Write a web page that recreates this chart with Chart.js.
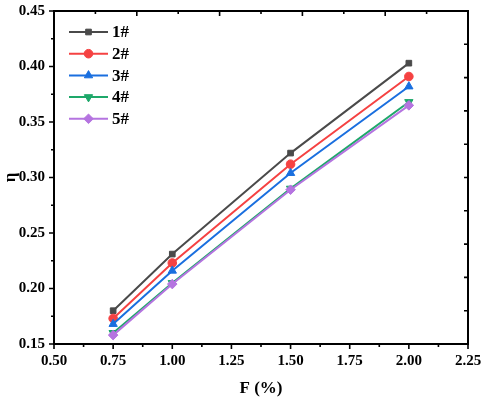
<!DOCTYPE html>
<html>
<head>
<meta charset="utf-8">
<script src="https://cdn.jsdelivr.net/npm/chart.js@4/dist/chart.umd.min.js"></script>
<style>
html,body{margin:0;padding:0;background:#fff;}
#wrap{width:484px;height:399px;position:relative;}
</style>
</head>
<body>
<div id="wrap"><canvas id="c" width="484" height="399"></canvas></div>
<script>
const xValues = [0.75, 1.00, 1.50, 2.00];
const seriesNames = ['1#', '2#', '3#', '4#', '5#'];
const s1 = [0.180, 0.231, 0.322, 0.403];
const s2 = [0.173, 0.223, 0.312, 0.391];
const s3 = [0.168, 0.216, 0.304, 0.382];
const s4 = [0.160, 0.205, 0.290, 0.368];
const s5 = [0.158, 0.204, 0.289, 0.365];
const xTickLabels = ['0.50','0.75','1.00','1.25','1.50','1.75','2.00','2.25'];
const yTickLabels = ['0.15','0.20','0.25','0.30','0.35','0.40','0.45'];

const colors = ['#4a4a4a', '#f54242', '#1a6fdf', '#1ea86a', '#b574e0'];
const styles = ['rect', 'circle', 'triangle', 'triangle', 'rectRot'];
const rotations = [0, 0, 0, 180, 0];
const radii = [4, 4.3, 4.8, 4.8, 4.8];
const allSeries = [s1, s2, s3, s4, s5];

const datasets = allSeries.map((s, i) => ({
  label: seriesNames[i],
  data: s.map((v, j) => ({x: xValues[j], y: v})),
  borderColor: colors[i],
  backgroundColor: colors[i],
  borderWidth: 2,
  pointStyle: styles[i],
  pointRotation: rotations[i],
  pointRadius: radii[i],
  pointBorderWidth: 1,
  showLine: true,
  fill: false,
  tension: 0,
  order: 5 - i
}));

const serif = "'Liberation Serif', 'Times New Roman', serif";

const framePlugin = {
  id: 'frameTicks',
  afterDraw(chart) {
    const {ctx, chartArea: a, scales} = chart;
    const xs = scales.x, ys = scales.y;
    ctx.save();
    ctx.strokeStyle = '#000';
    ctx.lineWidth = 1.6;
    ctx.lineCap = 'butt';
    ctx.beginPath();
    for (let k = 0; k <= 14; k++) {
      const px = xs.getPixelForValue(0.5 + k * 0.125);
      const len = (k % 2 === 0) ? 5 : 3;
      ctx.moveTo(px, a.bottom); ctx.lineTo(px, a.bottom + len);
    }
    for (let k = 0; k <= 12; k++) {
      const py = ys.getPixelForValue(0.15 + k * 0.025);
      const len = (k % 2 === 0) ? 5 : 3;
      ctx.moveTo(a.left, py); ctx.lineTo(a.left - len, py);
    }
    for (let k = 1; k < 10; k++) {
      const px = a.left + (a.right - a.left) * k / 10;
      const len = (k % 2 === 0) ? 5 : 3;
      ctx.moveTo(px, a.top); ctx.lineTo(px, a.top + len);
    }
    for (let k = 1; k < 10; k++) {
      const py = a.top + (a.bottom - a.top) * k / 10;
      ctx.moveTo(a.right, py); ctx.lineTo(a.right - 4, py);
    }
    ctx.stroke();
    ctx.lineWidth = 2;
    ctx.strokeRect(a.left, a.top, a.right - a.left, a.bottom - a.top);

    const lx0 = 69, lx1 = 108, ly0 = 32, dy = 21.7;
    chart.data.datasets.forEach((d, i) => {
      const y = ly0 + i * dy;
      ctx.strokeStyle = d.borderColor;
      ctx.lineWidth = 2;
      ctx.beginPath(); ctx.moveTo(lx0, y); ctx.lineTo(lx1, y); ctx.stroke();
      ctx.fillStyle = d.backgroundColor;
      ctx.lineWidth = 1;
      Chart.helpers.drawPoint(ctx, {pointStyle: d.pointStyle, rotation: d.pointRotation, radius: d.pointRadius, borderWidth: 1}, (lx0 + lx1) / 2, y);
      ctx.fillStyle = '#000';
      ctx.font = "bold 17px " + serif;
      ctx.textBaseline = 'middle';
      ctx.textAlign = 'left';
      ctx.fillText(d.label, 112, y + 1);
    });
    ctx.restore();
  }
};

new Chart(document.getElementById('c'), {
  type: 'scatter',
  data: {datasets},
  plugins: [framePlugin],
  options: {
    responsive: false,
    animation: false,
    devicePixelRatio: 1,
    layout: {padding: {top: 11, right: 16, left: 0, bottom: 0}},
    plugins: {legend: {display: false}, tooltip: {enabled: false}},
    scales: {
      x: {
        type: 'linear',
        min: 0.5, max: 2.25,
        afterFit(s) { s.height = 55; s.paddingLeft = 0; s.paddingRight = 0; },
        afterBuildTicks(s) { s.ticks = xTickLabels.map(t => ({value: parseFloat(t)})); },
        ticks: {
          callback: (v) => xTickLabels.find(t => Math.abs(parseFloat(t) - v) < 1e-9) || '',
          font: {family: serif, size: 15, weight: 'bold'},
          color: '#000',
          padding: 8,
          maxRotation: 0,
          autoSkip: false
        },
        grid: {display: false, drawTicks: false},
        border: {display: false},
        title: {display: true, text: 'F (%)', font: {family: serif, size: 17, weight: 'bold'}, color: '#000', padding: {top: 0, bottom: 0}}
      },
      y: {
        type: 'linear',
        min: 0.15, max: 0.45,
        afterFit(s) { s.width = 54; s.paddingTop = 0; s.paddingBottom = 0; },
        afterBuildTicks(s) { s.ticks = yTickLabels.map(t => ({value: parseFloat(t)})); },
        ticks: {
          callback: (v) => yTickLabels.find(t => Math.abs(parseFloat(t) - v) < 1e-9) || '',
          font: {family: serif, size: 15, weight: 'bold'},
          color: '#000',
          padding: 9,
          autoSkip: false
        },
        grid: {display: false, drawTicks: false},
        border: {display: false},
        title: {display: true, text: 'η', font: {family: serif, size: 17, weight: 'bold'}, color: '#000', padding: {top: 0, bottom: 0}}
      }
    }
  }
});
</script>
</body>
</html>
